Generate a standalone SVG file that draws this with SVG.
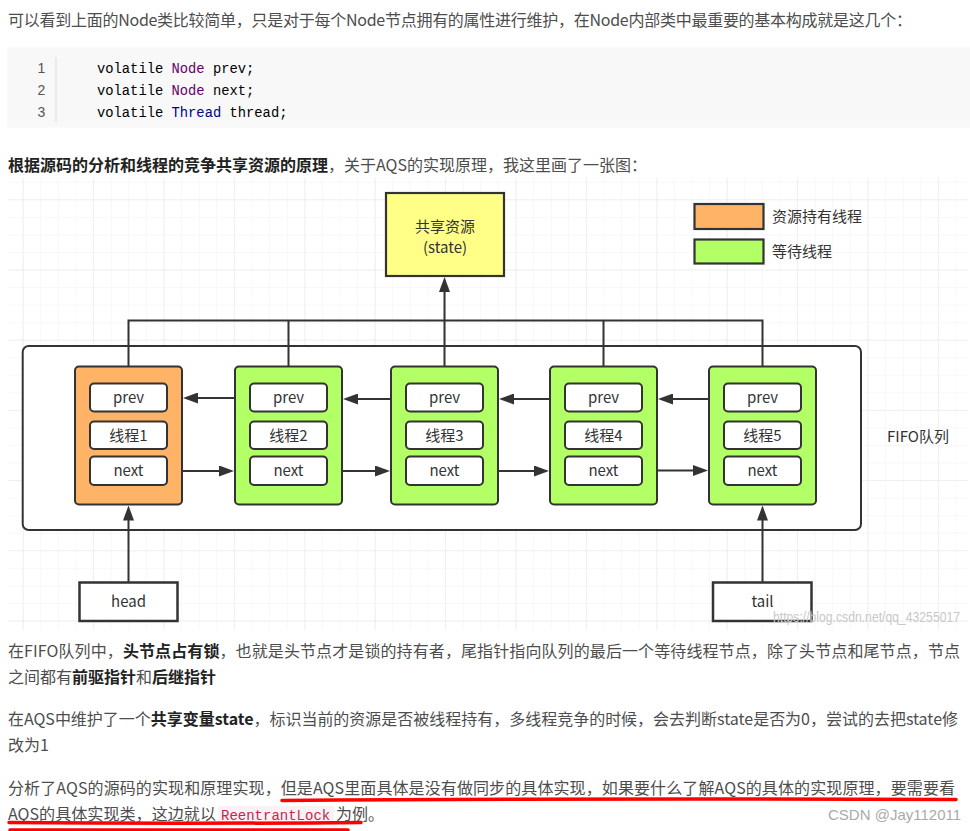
<svg xmlns="http://www.w3.org/2000/svg" width="970" height="831" viewBox="0 0 970 831">
<style>
.t{font-family:"Noto Sans CJK SC","Liberation Sans",sans-serif;font-size:16px;fill:#4d4d4d}
.b{font-weight:bold;fill:#222}
.d{font-family:"Noto Sans CJK SC","Liberation Sans",sans-serif;font-size:15px;fill:#333;text-anchor:middle}
.ls{font-family:"Noto Sans CJK SC","Liberation Sans",sans-serif;font-size:15px;fill:#333;text-anchor:start}
.mono{font-family:"Liberation Mono",monospace;font-size:13.8px}
.node{stroke:#333;stroke-width:2}
.in{fill:#fff;stroke:#333;stroke-width:2}
.ln{fill:none;stroke:#333;stroke-width:2}
.ar{fill:none;stroke:#333;stroke-width:2;marker-end:url(#arr)}
.ul{fill:none;stroke:#ff0000;stroke-width:3.5;stroke-linecap:round}
</style>
<defs>
<pattern id="gmin" patternUnits="userSpaceOnUse" x="22.7" y="199.3" width="17.6" height="17.55">
<path d="M0,0 V17.55 M0,0 H17.6" fill="none" stroke="#f1f1f1" stroke-width="1"/>
</pattern>
<pattern id="gmaj" patternUnits="userSpaceOnUse" x="22.7" y="199.3" width="70.4" height="70.2">
<path d="M0,0 V70.2 M0,0 H70.4" fill="none" stroke="#e6e6e6" stroke-width="1"/>
</pattern>
<marker id="arr" markerUnits="userSpaceOnUse" markerWidth="15" markerHeight="11" refX="5" refY="5.5" orient="auto">
<path d="M0,0 L15,5.5 L0,11 z" fill="#333"/>
</marker>
</defs>
<rect width="970" height="831" fill="#fff"/>

<!-- top text -->
<text class="t" x="8" y="25.5" textLength="904" lengthAdjust="spacing">可以看到上面的Node类比较简单，只是对于每个Node节点拥有的属性进行维护，在Node内部类中最重要的基本构成就是这几个：</text>

<!-- code block -->
<g id="code">
<rect x="7.5" y="47.5" width="962.5" height="80" fill="#f8f8f8"/>
<line x1="56" y1="57" x2="56" y2="122" stroke="#ddd" stroke-width="1"/>
<g font-family="Liberation Sans, sans-serif" font-size="14" fill="#555" text-anchor="middle">
<text x="41.5" y="73">1</text><text x="41.5" y="95">2</text><text x="41.5" y="116.5">3</text>
</g>
<text class="mono" x="97" y="73" fill="#000">volatile <tspan fill="#660066">Node</tspan> prev;</text>
<text class="mono" x="97" y="95" fill="#000">volatile <tspan fill="#660066">Node</tspan> next;</text>
<text class="mono" x="97" y="116.5" fill="#000">volatile <tspan fill="#000088">Thread</tspan> thread;</text>
</g>

<text class="t" x="8" y="170.5"><tspan class="b">根据源码的分析和线程的竞争共享资源的原理</tspan>，关于AQS的实现原理，我这里画了一张图：</text>

<!-- diagram background grid -->
<rect x="8" y="178" width="960" height="452" fill="#fff"/>
<rect x="8" y="178" width="960" height="452" fill="url(#gmin)"/>
<rect x="8" y="178" width="960" height="452" fill="url(#gmaj)"/>

<g id="state">
<rect x="386" y="193" width="118" height="83" fill="#ffff88" stroke="#333" stroke-width="2.2"/>
<text class="d" x="445" y="232" font-size="15.5">共享资源</text>
<text class="d" x="445" y="252.5" font-size="15.5">(state)</text>
</g>

<g id="legend">
<rect x="694.5" y="204" width="69" height="25" fill="#ffb366" stroke="#333" stroke-width="2.2"/>
<rect x="694.5" y="239.5" width="69" height="24" fill="#b3ff66" stroke="#333" stroke-width="2.2"/>
<text class="ls" x="772" y="222">资源持有线程</text>
<text class="ls" x="772" y="257">等待线程</text>
</g>

<g id="fifo">
<rect x="22.7" y="346" width="838.3" height="184" rx="6" fill="#fff" stroke="#333" stroke-width="2"/>
<text class="ls" x="887" y="442">FIFO队列</text>
</g>

<g id="connectors">
<path class="ln" d="M128.5,366.5 V320.5 H762.5 V366.5 M288.5,320.5 V366.5 M603.5,320.5 V366.5 M444.5,320.5 V366.5"/>
<path class="ar" d="M444.5,320.5 V287"/>
<path class="ar" d="M128.5,582 V515.5"/>
<path class="ar" d="M762.5,582 V515.5"/>
<path class="ar" d="M250,398 H193"/>
<path class="ar" d="M406,399 H353"/>
<path class="ar" d="M565,399 H509"/>
<path class="ar" d="M724,399 H668"/>
<path class="ar" d="M167,471 H224"/>
<path class="ar" d="M327,471 H380"/>
<path class="ar" d="M483,471 H539"/>
<path class="ar" d="M642,470.5 H698"/>
</g>

<g id="node1">
<rect class="node" x="75" y="366.5" width="107" height="138" rx="4" fill="#ffb366"/>
<rect class="in" x="90" y="383.5" width="77" height="28" rx="4"/>
<rect class="in" x="90" y="421.5" width="77" height="27.5" rx="4"/>
<rect class="in" x="90" y="456.5" width="77" height="28.5" rx="4"/>
<text class="d" x="128.5" y="403">prev</text><text class="d" x="128.5" y="440.5">线程1</text><text class="d" x="128.5" y="476">next</text>
</g>
<g id="node2">
<rect class="node" x="235" y="366.5" width="107" height="138" rx="4" fill="#b3ff66"/>
<rect class="in" x="250" y="383.5" width="77" height="28" rx="4"/>
<rect class="in" x="250" y="421.5" width="77" height="27.5" rx="4"/>
<rect class="in" x="250" y="456.5" width="77" height="28.5" rx="4"/>
<text class="d" x="288.5" y="403">prev</text><text class="d" x="288.5" y="440.5">线程2</text><text class="d" x="288.5" y="476">next</text>
</g>
<g id="node3">
<rect class="node" x="391" y="366.5" width="107" height="138" rx="4" fill="#b3ff66"/>
<rect class="in" x="406" y="383.5" width="77" height="28" rx="4"/>
<rect class="in" x="406" y="421.5" width="77" height="27.5" rx="4"/>
<rect class="in" x="406" y="456.5" width="77" height="28.5" rx="4"/>
<text class="d" x="444.5" y="403">prev</text><text class="d" x="444.5" y="440.5">线程3</text><text class="d" x="444.5" y="476">next</text>
</g>
<g id="node4">
<rect class="node" x="550" y="366.5" width="107" height="138" rx="4" fill="#b3ff66"/>
<rect class="in" x="565" y="383.5" width="77" height="28" rx="4"/>
<rect class="in" x="565" y="421.5" width="77" height="27.5" rx="4"/>
<rect class="in" x="565" y="456.5" width="77" height="28.5" rx="4"/>
<text class="d" x="603.5" y="403">prev</text><text class="d" x="603.5" y="440.5">线程4</text><text class="d" x="603.5" y="476">next</text>
</g>
<g id="node5">
<rect class="node" x="709" y="366.5" width="107" height="138" rx="4" fill="#b3ff66"/>
<rect class="in" x="724" y="383.5" width="77" height="28" rx="4"/>
<rect class="in" x="724" y="421.5" width="77" height="27.5" rx="4"/>
<rect class="in" x="724" y="456.5" width="77" height="28.5" rx="4"/>
<text class="d" x="762.5" y="403">prev</text><text class="d" x="762.5" y="440.5">线程5</text><text class="d" x="762.5" y="476">next</text>
</g>

<g id="head">
<rect x="79.5" y="582.5" width="98" height="38.5" fill="#fff" stroke="#333" stroke-width="2.5"/>
<text class="d" x="128.5" y="607">head</text>
</g>
<g id="tail">
<rect x="713" y="582.5" width="98.5" height="38.5" fill="#fff" stroke="#333" stroke-width="2.5"/>
<text class="d" x="762.5" y="607">tail</text>
</g>
<text x="773" y="622" font-family="Liberation Sans, sans-serif" font-size="14" fill="#c8c8c8" textLength="187" lengthAdjust="spacingAndGlyphs">https://blog.csdn.net/qq_43255017</text>

<!-- bottom text -->
<text class="t" x="8" y="656.5" textLength="952" lengthAdjust="spacing">在FIFO队列中，<tspan class="b">头节点占有锁</tspan>，也就是头节点才是锁的持有者，尾指针指向队列的最后一个等待线程节点，除了头节点和尾节点，节点</text>
<text class="t" x="8" y="682.5">之间都有<tspan class="b">前驱指针</tspan>和<tspan class="b">后继指针</tspan></text>
<text class="t" x="8" y="724.5" textLength="950" lengthAdjust="spacing">在AQS中维护了一个<tspan class="b">共享变量state</tspan>，标识当前的资源是否被线程持有，多线程竞争的时候，会去判断state是否为0，尝试的去把state修</text>
<text class="t" x="8" y="750.5">改为1</text>
<text class="t" x="8" y="793.5" textLength="947" lengthAdjust="spacing">分析了AQS的源码的实现和原理实现，但是AQS里面具体是没有做同步的具体实现，如果要什么了解AQS的具体的实现原理，要需要看</text>
<text class="t" x="8" y="820" textLength="208" lengthAdjust="spacingAndGlyphs">AQS的具体实现类，这边就以</text>
<rect x="218" y="806" width="116" height="19" rx="2" fill="#f9f2f4"/>
<text x="221" y="820" font-family="Liberation Mono, monospace" font-size="14" fill="#c7254e">ReentrantLock</text>
<text class="t" x="336" y="820">为例。</text>
<text x="828" y="819.5" font-family="Liberation Sans, sans-serif" font-size="15" fill="#aaa">CSDN @Jay112011</text>
<path class="ul" d="M282,800.5 Q600,798 956,799.5"/>
<path class="ul" d="M9,822.5 Q180,824 361,822.5"/>
<path class="ul" d="M10,830 L348,830"/>
</svg>
